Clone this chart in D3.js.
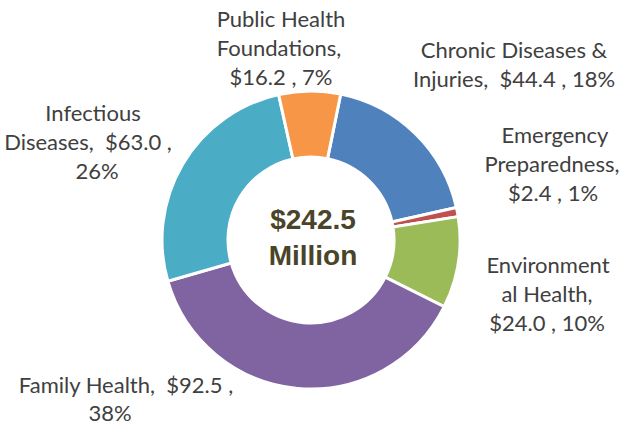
<!DOCTYPE html>
<html>
<head>
<meta charset="utf-8">
<script src="https://cdn.jsdelivr.net/npm/d3@7"></script>
<style>
  html, body { margin: 0; padding: 0; background: #fff; }
  svg { display: block; }
  .lbl { font-family: Lato, "Open Sans", sans-serif; font-size: 22px; fill: #404040; white-space: pre; }
  .ctr { font-family: "Liberation Sans", Arial, sans-serif; font-weight: bold; font-size: 28px; fill: #4a4429; }
</style>
</head>
<body>
<svg id="chart" width="623" height="427"></svg>
<script>
// ---- data ----
const categories = ["Chronic Diseases & Injuries", "Emergency Preparedness", "Environmental Health",
                    "Family Health", "Infectious Diseases", "Public Health Foundations"];
const values = [44.4, 2.4, 24.0, 92.5, 63.0, 16.2];
const colors = ["#4F81BD", "#C0504D", "#9BBB59", "#8064A2", "#4BACC6", "#F79646"];
const centerUnit = "Million";
// character positions where each label wraps
const labelBreaks = [[18], [9, 23], [11, 21], [23], [10, 29], [13, 26]];

// ---- layout ----
const W = 623, H = 427;
const cx = 311, cy = 240, rOuter = 149, rInner = 83;
const startDeg = 11.5;
const lineGap = 29;
const labelX = [[514, 514], [555, 552, 553], [548, 547, 547], [126, 110], [93, 88, 97], [281, 279, 281]];
const labelY0 = [57.7, 142.7, 273, 393, 121, 26.7];
const labelGap = [29, 29, 29, 28, 29, 29];

const svg = d3.select("#chart");
const total = d3.sum(values);
const data = categories.map((c, i) => ({ name: c, value: values[i], color: colors[i], i }));

const start = startDeg * Math.PI / 180;
const pie = d3.pie().value(d => d.value).sort(null).startAngle(start).endAngle(start + 2 * Math.PI);
const arc = d3.arc().innerRadius(rInner).outerRadius(rOuter);

const g = svg.append("g").attr("transform", `translate(${cx},${cy})`);
g.selectAll("path.slice").data(pie(data)).join("path")
  .attr("class", "slice")
  .attr("d", arc)
  .attr("fill", d => d.data.color)
  .attr("stroke", "#fff")
  .attr("stroke-width", 3)
  .attr("stroke-linejoin", "miter");

// labels
data.forEach((d, i) => {
  const pct = Math.round(d.value / total * 100);
  const full = `${d.name},  $${d.value.toFixed(1)} , ${pct}%`;
  const br = [0, ...labelBreaks[i], full.length];
  const lines = [];
  for (let k = 0; k < br.length - 1; k++) lines.push(full.slice(br[k], br[k + 1]).trim());
  const t = svg.append("text").attr("class", "lbl").attr("text-anchor", "middle");
  lines.forEach((ln, k) => {
    t.append("tspan").attr("x", labelX[i][k]).attr("y", labelY0[i] + k * labelGap[i]).text(ln);
  });
});

// center text
const ct = svg.append("text").attr("class", "ctr").attr("text-anchor", "middle");
ct.append("tspan").attr("x", 313).attr("y", 229).text("$" + total.toFixed(1));
ct.append("tspan").attr("x", 313).attr("y", 265).text(centerUnit);
</script>
</body>
</html>
